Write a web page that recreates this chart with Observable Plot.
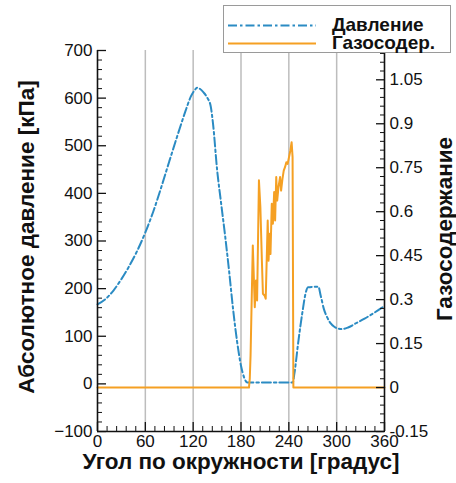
<!DOCTYPE html>
<html><head><meta charset="utf-8">
<script src="https://cdn.jsdelivr.net/npm/d3@7"></script>
<script src="https://cdn.jsdelivr.net/npm/@observablehq/plot@0.6"></script>
<style>
body{margin:0;background:#fff;}
#wrap{position:relative;width:456px;height:483px;font-family:"Liberation Sans",Arial,sans-serif;}
#legend{position:absolute;left:223px;top:5px;width:228px;height:48px;border:1px solid #9a9a9a;background:#fff;box-sizing:border-box;}
#legend svg{position:absolute;left:0;top:0;}
</style></head><body><div id="wrap"></div>
<script>
// ---- data ----
const pressureAngle = [0,10,20,30,40,50,60,70,80,90,100,110,117,122,125,128,133,138,142,145,150,155,160,165,170,175,180,184,188,190,220,245,247,252,257,261,264,277,280,284,288,292,297,302,307,315,325,335,345,355,360];
const pressureKPa   = [167,178,196,220,248,280,318,362,413,467,520,571,603,617,622,620,612,600,583,545,450,380,312,238,158,90,38,13,3,3,3,3,22,90,150,190,203,204,185,157,140,128,120,116,115,119,128,137,147,158,164];

const gasAngle = [0,190,191,192,194.8,197.3,198.8,200.2,202.5,204.3,206.2,207.5,209.5,211,213.5,214.6,215.8,217,218.6,220,221.6,222.8,224.2,225.4,227,229,230.3,232,233.6,235.2,236.9,238.5,240.2,241.9,243.5,244.7,245.7,360];
const gasFraction = [0,0,0.03,0.11,0.485,0.274,0.365,0.297,0.707,0.615,0.433,0.32,0.314,0.303,0.57,0.433,0.525,0.456,0.627,0.559,0.667,0.57,0.718,0.638,0.684,0.718,0.672,0.712,0.74,0.752,0.769,0.763,0.786,0.809,0.837,0.786,0,0];

const xTicks = [0,60,120,180,240,300,360];
const gridAngles = [60,120,180,240,300];
const leftTicks = [-100,0,100,200,300,400,500,600,700];
const rightTicks = [-0.15,0,0.15,0.3,0.45,0.6,0.75,0.9,1.05];
const rightTickLabels = ["-0.15","0","0.15","0.3","0.45","0.6","0.75","0.9","1.05"];
const seriesNames = ["Давление","Газосодер."];
const seriesColors = ["#2b8bc3","#f5a023"];
const xTitle = "Угол по окружности [градус]";
const yTitle = "Абсолютное давление [кПа]";
const y2Title = "Газосодержание";
const yDomain = [-100,700];
const gasDomain = [-0.15,1.15];

// ---- build ----
const gasToY = g => yDomain[0] + (g - gasDomain[0]) / (gasDomain[1] - gasDomain[0]) * (yDomain[1] - yDomain[0]);
const pressure = pressureAngle.map((a,i)=>({a, p: pressureKPa[i]}));
const gas = gasAngle.map((a,i)=>({a, g: gasFraction[i]}));
const leftMinor = d3.range(-100,701,20).filter(v => v % 100 !== 0);
const xMinor = d3.range(0,361,12).filter(v => v % 60 !== 0);
const rightTicksY = rightTicks.map(gasToY);
const rightMinorY = d3.range(0,44).filter(i => i % 5 !== 0).map(i => gasToY(-0.15 + i*0.03));
const rightFmt = v => { const i = rightTicksY.findIndex(t => Math.abs(t - v) < 1e-6); return i >= 0 ? rightTickLabels[i] : ""; };

const ax = {tickSize:-9, tickPadding:14, fontSize:17, stroke:"#111", strokeWidth:1.3, label:null};
const mx = {tickSize:-5, tickFormat:() => "", stroke:"#111", strokeWidth:1, label:null};
const titleStyle = {text:d=>d, fontWeight:"bold", fontSize:22.5, fill:"#111", textAnchor:"middle"};

const plot = Plot.plot({
  width:456, height:483,
  marginLeft:97, marginRight:72, marginTop:50, marginBottom:52,
  style:{fontFamily:"'Liberation Sans', Arial, sans-serif", fontSize:"17px", color:"#111", background:"#fff"},
  x:{domain:[0,360]},
  y:{domain:yDomain},
  marks:[
    Plot.ruleX(gridAngles, {stroke:"#bdbdbd", strokeWidth:1.5}),
    Plot.line(pressure, {x:"a", y:"p", stroke:seriesColors[0], strokeWidth:2, strokeDasharray:"9,3,2.5,3", curve:"monotone-x"}),
    Plot.line(gas, {x:"a", y: d => gasToY(d.g), stroke:seriesColors[1], strokeWidth:2}),
    Plot.axisX(xTicks, {...ax, tickPadding:12, anchor:"bottom"}),
    Plot.axisX(xMinor, {...mx, anchor:"bottom"}),
    Plot.axisY(leftTicks, {...ax, anchor:"left"}),
    Plot.axisY(leftMinor, {...mx, anchor:"left"}),
    Plot.axisY(rightTicksY, {...ax, anchor:"right", tickFormat: rightFmt}),
    Plot.axisY(rightMinorY, {...mx, anchor:"right"}),
    Plot.ruleX([0,360], {stroke:"#111", strokeWidth:1.6}),
    Plot.ruleY([yDomain[0]], {stroke:"#111", strokeWidth:1.6}),
    Plot.text([xTitle], {...titleStyle, frameAnchor:"bottom", dy:37}),
    Plot.text([yTitle], {...titleStyle, frameAnchor:"left", rotate:-90, dx:-71, dy:-4}),
    Plot.text([y2Title], {...titleStyle, frameAnchor:"right", rotate:-90, dx:60, dy:-12})
  ]
});
const wrap = document.getElementById("wrap");
wrap.appendChild(plot);

// ---- legend ----
const leg = document.createElement("div");
leg.id = "legend";
const ns = "http://www.w3.org/2000/svg";
const svg = document.createElementNS(ns, "svg");
svg.setAttribute("width", 228); svg.setAttribute("height", 48);
seriesNames.forEach((name, i) => {
  const yy = i === 0 ? 19.5 : 37.5;
  const ln = document.createElementNS(ns, "line");
  ln.setAttribute("x1", 4); ln.setAttribute("x2", 92);
  ln.setAttribute("y1", yy); ln.setAttribute("y2", yy);
  ln.setAttribute("stroke", seriesColors[i]); ln.setAttribute("stroke-width", 2);
  if (i === 0) ln.setAttribute("stroke-dasharray", "9,3,2.5,3");
  svg.appendChild(ln);
  const t = document.createElementNS(ns, "text");
  t.setAttribute("x", 108); t.setAttribute("y", i === 0 ? 25 : 43);
  t.setAttribute("font-family", "'Liberation Sans', Arial, sans-serif");
  t.setAttribute("font-weight", "bold"); t.setAttribute("font-size", 19);
  t.setAttribute("fill", "#111");
  t.textContent = name;
  svg.appendChild(t);
});
leg.appendChild(svg);
wrap.appendChild(leg);
</script>
</body></html>
